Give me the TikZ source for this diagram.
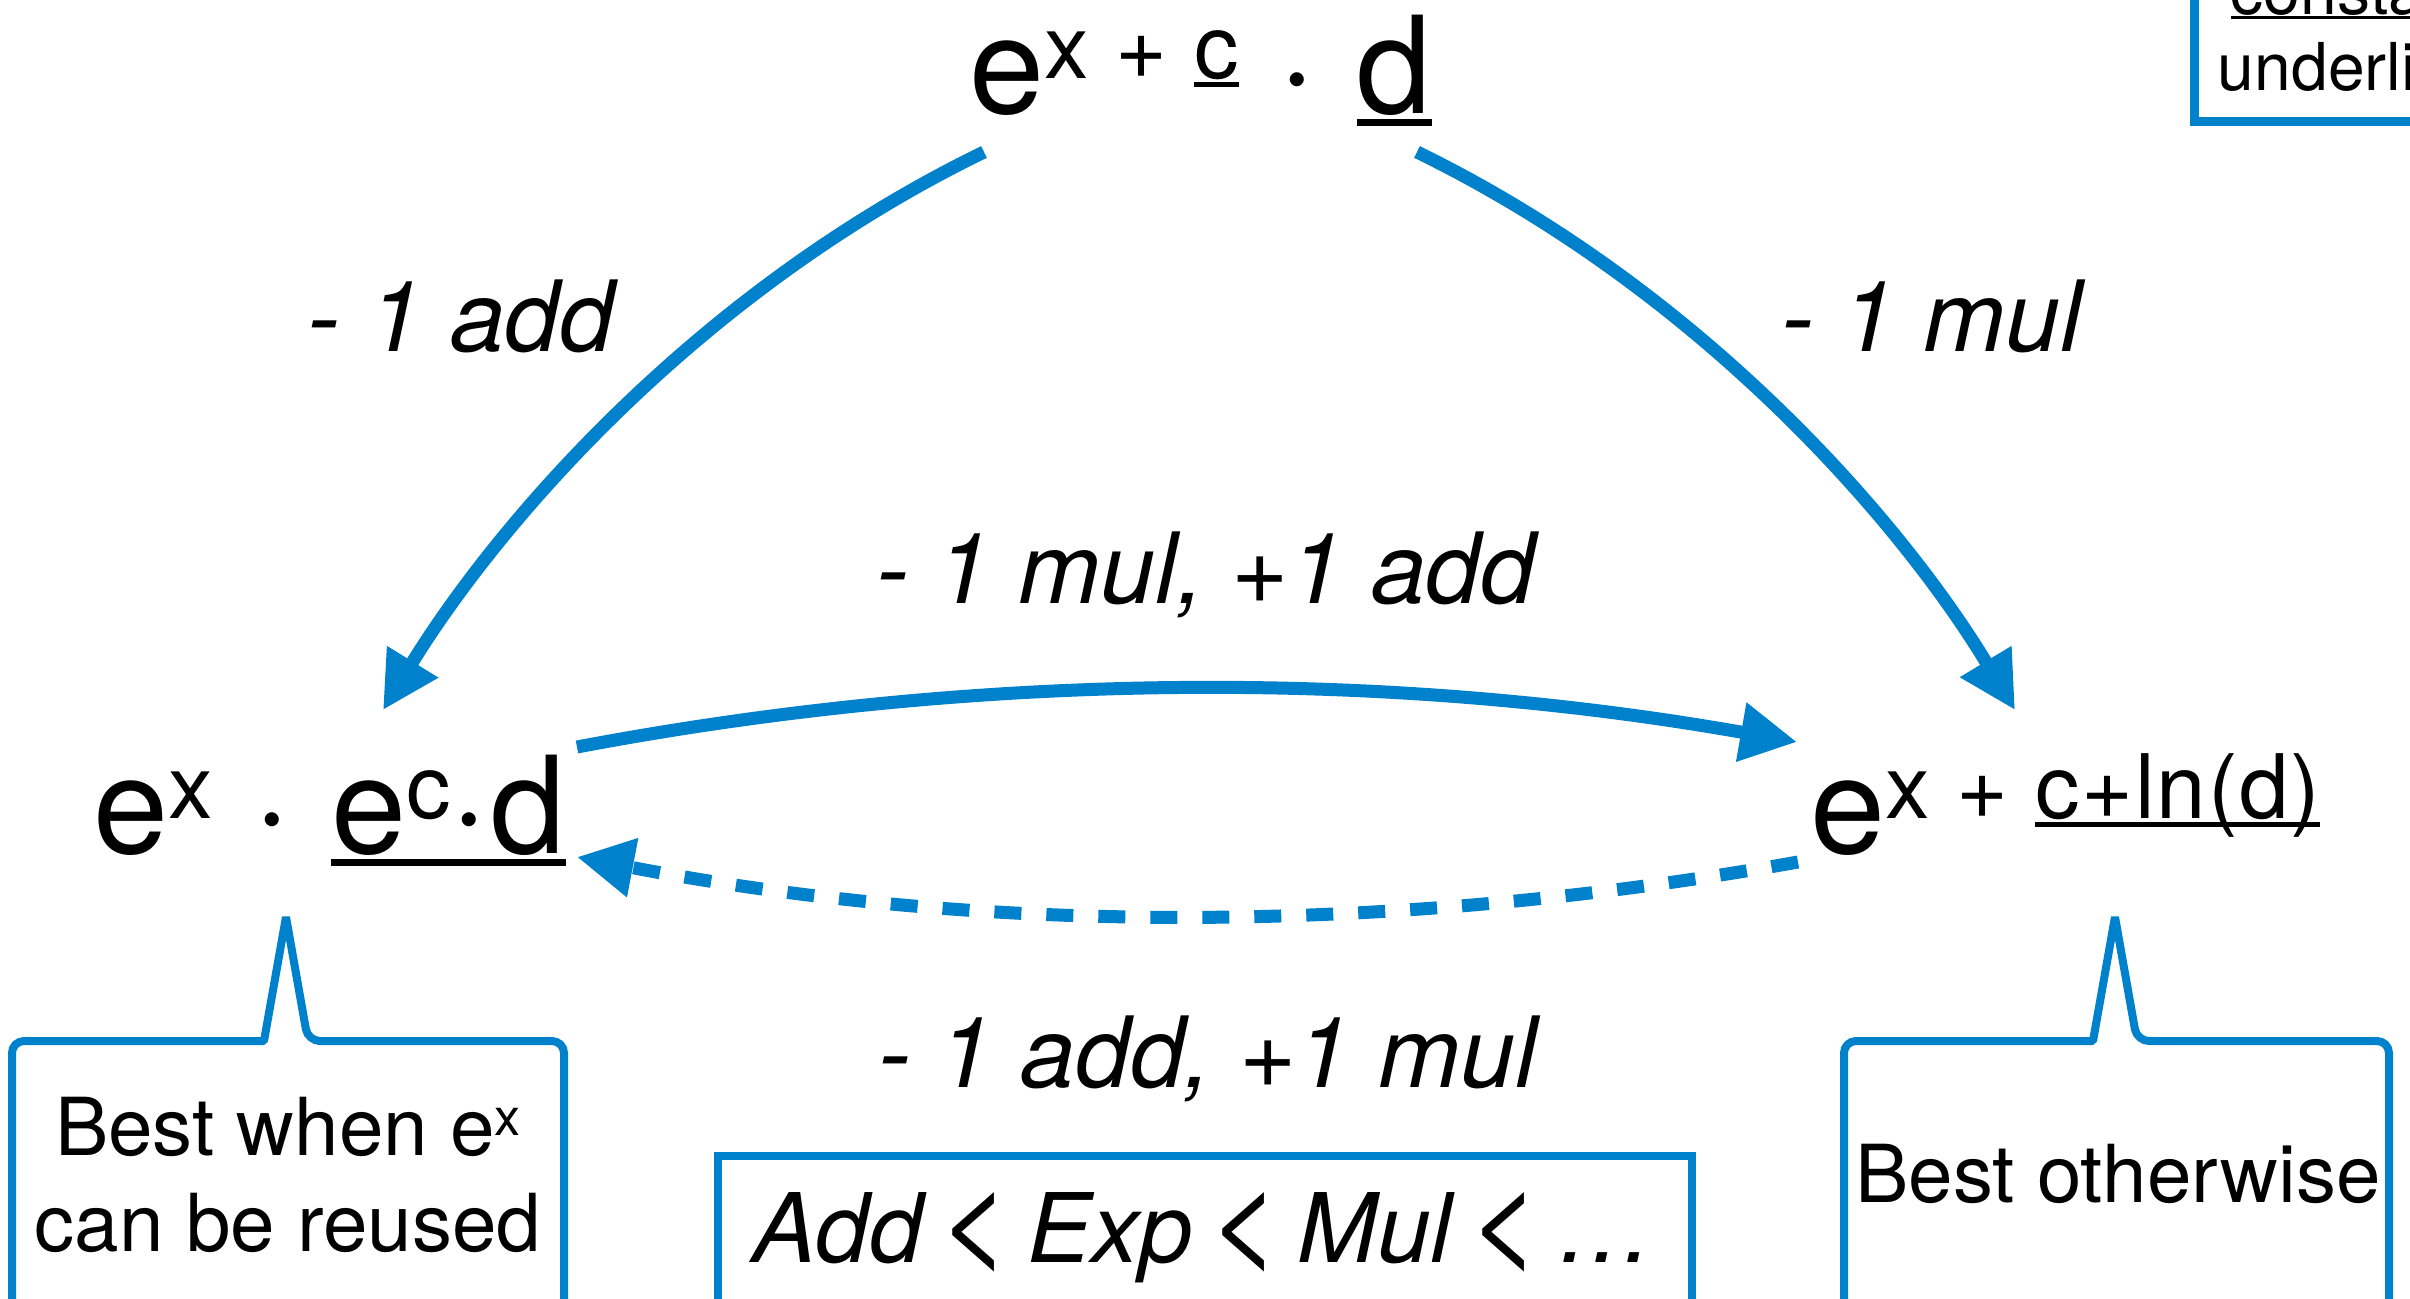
\documentclass[tikz,border=0pt]{standalone}
\usepackage{graphicx}
\usepackage{fontspec}
\setmainfont{TeX Gyre Heros}
\newfontfamily\exprfont{TeX Gyre Heros}[LetterSpace=2]
\usetikzlibrary{arrows.meta,calc}
\definecolor{kblue}{RGB}{0,129,204}
\newcommand\myBig{\exprfont\fontsize{40.5pt}{48pt}\selectfont}
\newcommand\mySm{\fontsize{26.7pt}{32pt}\selectfont}
\newcommand\myLab{\fontsize{29.5pt}{34pt}\selectfont\itshape}
\newcommand\myCal{\fontsize{24pt}{28pt}\selectfont}
\newcommand\myOrd{\fontsize{28.8pt}{34pt}\selectfont\itshape}
\newcommand\myNote{\fontsize{19.8pt}{24pt}\selectfont}
\newcommand\ulBig[1]{\setbox0\hbox{#1}\rlap{\rule[-3.75pt]{\wd0}{2pt}}\box0}
\newcommand\ulSm[1]{\setbox0\hbox{#1}\rlap{\rule[-2.7pt]{\wd0}{1.5pt}}\box0}
\newcommand\ulNote[1]{\setbox0\hbox{#1}\rlap{\rule[-1.6pt]{\wd0}{0.9pt}}\box0}
\newcommand\lessS{\,\raisebox{-0.5pt}{\scalebox{1.3}{<}}\,}
\begin{document}
\begin{tikzpicture}[x=0.3pt,y=-0.3pt,
  arr/.style={draw=kblue, line width=3.9pt, -{Triangle[length=17pt,width=17pt]}},
  dsh/.style={arr, dash pattern=on 8.1pt off 7.5pt},
  bub/.style={draw=kblue, line width=2.4pt, line join=bevel},
  lab/.style={font=\myLab, inner sep=0, anchor=base},
  expr/.style={inner sep=0, anchor=base west, font=\myBig},
  txt/.style={inner sep=0, anchor=base, font=\myCal}]
\useasboundingbox (0,0) rectangle (2410,1299);
\fill[white] (0,0) rectangle (2410,1299);
\clip (0,0) rectangle (2410,1299);

% expressions
\node[expr] (top) at (969,113) {e\raisebox{10.5pt}{\mySm x + \ulSm{c}}\ ·\ \ulBig{d}};
\node[expr] (lft) at (93,853) {e\raisebox{10.5pt}{\mySm x}\ ·\ \ulBig{e\raisebox{10.5pt}{\mySm c}·d}};
\node[expr] (rgt) at (1810,853) {e\raisebox{10.5pt}{\mySm x + \ulSm{c+ln(d)}}};

% arrows
\draw[arr] ($(top.base west)+(15,39)$) .. controls (700,290) and (500,520) .. ($(lft.base west)+(290,-143)$);
\draw[arr] ($(top.base west)+(448,39)$) .. controls (1700,290) and (1900,520) .. ($(rgt.base west)+(205,-143)$);
\draw[arr] ($(lft.base west)+(484,-106)$) .. controls (984,670) and (1390,670) .. ($(rgt.base west)+(-13,-111)$);
\draw[dsh] ($(rgt.base west)+(-12,9)$) .. controls (1390,935) and (984,935) .. ($(lft.base west)+(484,4)$);

% arrow labels
\node[lab] (la) at (461,351) {- 1 add};
\node[lab] (lb) at (1932,351) {- 1 mul};
\node[lab] (lc) at (1206,603) {- 1 mul, +1 add};
\node[lab] (ld) at (1208,1087) {- 1 add, +1 mul};

% callouts
\draw[bub] (150,1041) [rounded corners=3.6pt] -- (12,1041) -- (12,1360) -- (564,1360) -- (564,1041) -- (308,1041) [sharp corners] -- (286,917) -- (264,1041) -- cycle;
\draw[bub] (2000,1041) [rounded corners=3.6pt] -- (1844,1041) -- (1844,1360) -- (2389,1360) -- (2389,1041) -- (2137,1041) [sharp corners] -- (2115,917) -- (2093,1041) -- cycle;
\node[txt] (ca1) at (288,1155) {Best when e\raisebox{6pt}{\fontsize{15.6pt}{18pt}\selectfont x}};
\node[txt] (ca2) at (288,1251) {can be reused};
\node[txt] (cb) at (2118,1202) {Best otherwise};

% order box
\draw[draw=kblue, line width=2.2pt] (718,1156) rectangle (1692,1360);
\node[inner sep=0, anchor=base, font=\myOrd] (ord) at (1203,1262) {Add\lessS Exp\lessS Mul\lessS …};

% note box (top right, cut off by the picture's edge)
\draw[draw=kblue, line width=2.7pt] (2194,-60) rectangle (2700,121);
\node[inner sep=0, anchor=base, font=\myNote] (n1) at (2372,14) {\ulNote{constants}};
\node[inner sep=0, anchor=base, font=\myNote] (n2) at (2372,90) {underlined};
\end{tikzpicture}
\end{document}
